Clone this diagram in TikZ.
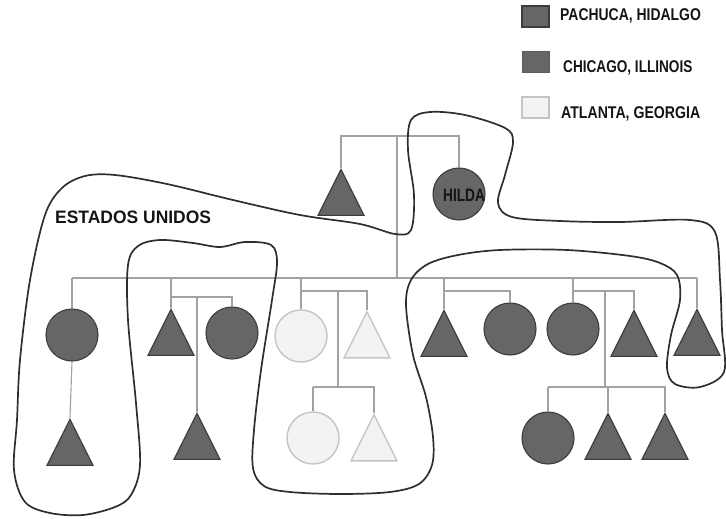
\documentclass[tikz,border=0pt]{standalone}
\usepackage{fontspec}
\setmainfont{Liberation Sans}
\usetikzlibrary{shapes.geometric}
\definecolor{darkfill}{HTML}{666666}
\definecolor{darkline}{HTML}{3C3C3C}
\definecolor{lightfill}{HTML}{F3F3F3}
\definecolor{lightline}{HTML}{C4C4C4}
\definecolor{connline}{HTML}{A2A2A2}
\definecolor{blobline}{HTML}{2E2E2E}
\definecolor{txt}{HTML}{151515}
\tikzset{
  tri/.style={isosceles triangle, isosceles triangle stretches, shape border rotate=90,
    minimum width=46, minimum height=46, inner sep=0pt, anchor=apex},
  circ/.style={circle, minimum size=52, inner sep=0pt},
  dark/.style={fill=darkfill, draw=darkline, line width=1.1pt},
  light/.style={fill=lightfill, draw=lightline, line width=1.4pt},
  conn/.style={draw=connline, line width=1.1pt},
  blob/.style={draw=blobline, line width=1.7pt},
  legbox/.style={minimum width=27, minimum height=21, inner sep=0pt},
  legtxt/.style={anchor=base west, text=txt, inner sep=0pt, font=\fontsize{17}{17}\selectfont\bfseries},
  bigtxt/.style={anchor=base west, text=txt, inner sep=0pt, font=\fontsize{18}{18}\selectfont\bfseries}
}
\begin{document}
\begin{tikzpicture}[x=1pt, y=-1pt]
\useasboundingbox (0,0) rectangle (726,519);
% legend
\node[legbox, fill=darkfill, draw=darkline, line width=1.2pt] (lg1) at (535.5,16.5) {};
\node[legbox, fill=darkfill, draw=darkfill!90!black, line width=1pt] (lg2) at (535.5,62.5) {};
\node[legbox, fill=lightfill, draw=lightline, line width=1.3pt] (lg3) at (535.5,107.5) {};
\node[legtxt] (lt1) at (560,21) {\scalebox{0.82}[1]{PACHUCA, HIDALGO}};
\node[legtxt] (lt2) at (563,73) {\scalebox{0.8}[1]{CHICAGO, ILLINOIS}};
\node[legtxt] (lt3) at (561,118) {\scalebox{0.83}[1]{ATLANTA, GEORGIA}};
% generation 1
\node[tri, dark] (t0) at (341,168) {};
\node[circ, dark] (hilda) at (459,194) {};
\node[bigtxt] (hl) at (443,201) {\scalebox{0.76}[1]{HILDA}};
% generation 2
\node[circ, dark] (c1) at (72,335) {};
\node[tri, dark] (t2) at (171,308) {};
\node[circ, dark] (c2) at (232,333) {};
\node[circ, light] (c3) at (301,336) {};
\node[tri, light] (t4) at (367,310) {};
\node[tri, dark] (t6) at (444,309) {};
\node[circ, dark] (c6) at (510,329) {};
\node[circ, dark] (c7) at (573,329) {};
\node[tri, dark] (t7) at (634,309) {};
\node[tri, dark] (t10) at (697,308) {};
% generation 3
\node[tri, dark] (t1) at (70,418) {};
\node[tri, dark] (t3) at (197,412) {};
\node[circ, light] (c5) at (313,438) {};
\node[tri, light] (t5) at (374,413) {};
\node[circ, dark] (c8) at (548,438) {};
\node[tri, dark] (t8) at (608,412) {};
\node[tri, dark] (t9) at (665,412) {};
% junctions
\coordinate (mC) at (397,136);
\coordinate (sib) at (397,278);
\coordinate (m2) at (197,297);
\coordinate (m3) at (338,291);
\coordinate (k3) at (338,387);
\coordinate (m4) at (470,291);
\coordinate (m5) at (605,291);
\coordinate (k5) at (605,387);
% connectors
\draw[conn] (t0.apex) -- (t0.apex |- mC) -- (hilda.north |- mC) -- (hilda.north);
\draw[conn] (mC) -- (sib);
\draw[conn] (c1.north |- sib) -- (t10.apex |- sib);
\draw[conn] (c1.north |- sib) -- (c1.north);
\draw[conn] (c1.south) -- (t1.apex);
\draw[conn] (t2.apex |- sib) -- (t2.apex);
\draw[conn] (t2.apex |- m2) -- (c2.north |- m2) -- (c2.north);
\draw[conn] (m2) -- (t3.apex);
\draw[conn] (c3.north |- sib) -- (c3.north);
\draw[conn] (c3.north |- m3) -- (t4.apex |- m3) -- (t4.apex);
\draw[conn] (m3) -- (k3);
\draw[conn] (c5.north |- k3) -- (t5.apex |- k3) -- (t5.apex);
\draw[conn] (c5.north |- k3) -- (c5.north);
\draw[conn] (t6.apex |- sib) -- (t6.apex);
\draw[conn] (t6.apex |- m4) -- (c6.north |- m4) -- (c6.north);
\draw[conn] (c7.north |- sib) -- (c7.north);
\draw[conn] (c7.north |- m5) -- (t7.apex |- m5) -- (t7.apex);
\draw[conn] (m5) -- (k5);
\draw[conn] (c8.north |- k5) -- (t9.apex |- k5) -- (t9.apex);
\draw[conn] (c8.north |- k5) -- (c8.north);
\draw[conn] (t8.apex |- k5) -- (t8.apex);
\draw[conn] (t10.apex |- sib) -- (t10.apex);
% label
\node[bigtxt] (eu) at (55,223) {\scalebox{0.97}[1]{ESTADOS UNIDOS}};
% enclosing curve
\draw[blob] plot[smooth cycle, tension=0.55] coordinates {
 (17,420) (20,360) (30,280) (45,215) (62,188) (85,176) (115,175) (167,184)
 (233,200) (300,215) (360,224) (395,234) (411,230) (414,195) (408,150)
 (411,120) (430,112) (465,115) (505,128) (513,142) (505,175) (498,203)
 (512,217) (560,221) (620,222) (690,220) (715,232) (720,280) (722,330)
 (724,372) (700,387) (675,384) (667,368) (671,335) (680,300) (677,275)
 (660,263) (630,256) (567,250) (500,250) (458,255) (428,264) (411,280)
 (406,305) (413,355) (426,397) (433,437) (432,465) (419,484) (390,492)
 (340,494) (290,492) (264,486) (253,468) (254,430) (261,370) (272,300)
 (277,262) (271,245) (245,242) (220,247) (193,243) (160,240) (138,246)
 (128,265) (128,320) (136,403) (140,465) (131,495) (115,507) (83,515)
 (50,513) (25,502) (14,470)};
\end{tikzpicture}
\end{document}
